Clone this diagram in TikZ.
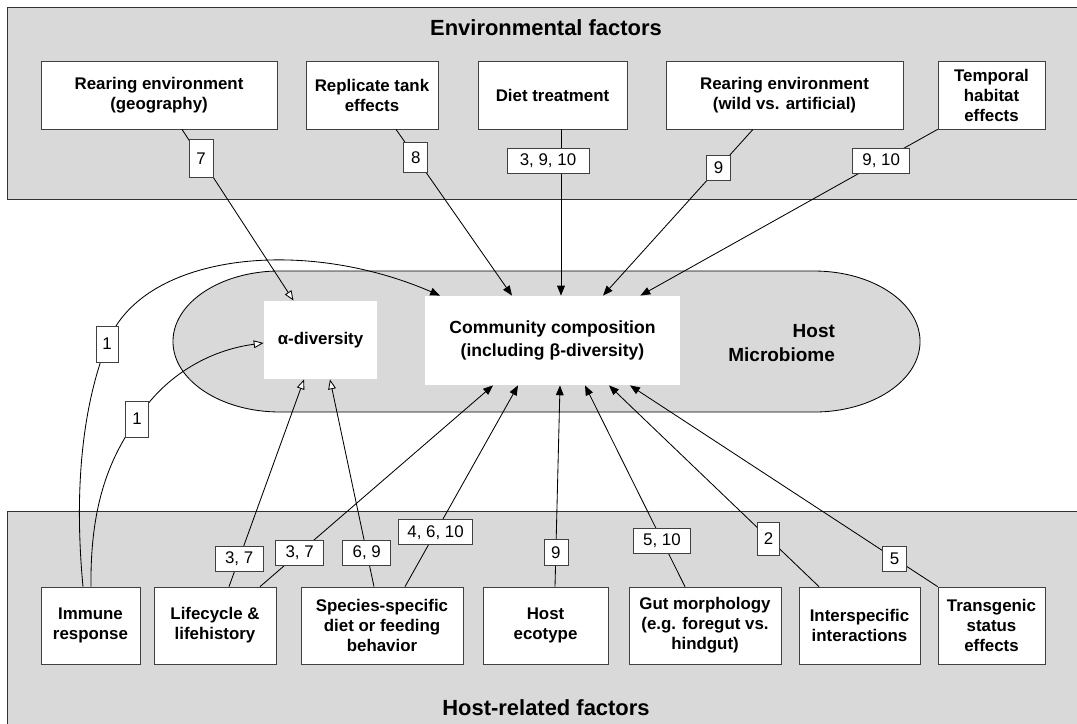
\documentclass[tikz,border=0pt]{standalone}
\usepackage{fontspec}
\setmainfont{Liberation Sans}
\usetikzlibrary{arrows.meta}
\newdimen\px \px=0.025cm

\begin{document}
\begin{tikzpicture}[x=0.025cm, y=-0.025cm, line width=0.6pt, >={Triangle[length=7pt,width=5.5pt]}]
    \tikzset{fbox/.style={draw=black!75, line width=0.5pt, fill=white, align=center, inner sep=0pt, font={\bfseries\fontsize{12}{14.2}\selectfont}},
      num/.style={draw=black!75, line width=0.5pt, fill=white, inner sep=0pt, minimum width=24\px, minimum height=25\px, font={\fontsize{12}{14}\selectfont}},
      panel/.style={fill=black!15, draw=black!80},
      hollow/.style={-{Triangle[length=7pt,width=5.5pt,fill=white]}},
      title/.style={font={\bfseries\fontsize{15.6}{18}\selectfont}}}
    \useasboundingbox (0,0) rectangle (1077,723);
    \draw [panel] (7,7) rectangle (1090,199);
    \draw [panel] (7,511) rectangle (1090,735);
    \node [title] (envt) at (546,28) {Environmental factors};
    \node [title] (hostt) at (546,708) {Host-related factors};
    \draw [fill=black!15] (280,271) -- (814,271) arc [start angle=90, end angle=-90, x radius=2.65cm, y radius=1.7625cm] -- (280,412) arc [start angle=270, end angle=90, x radius=2.675cm, y radius=1.7625cm] -- cycle;
    \node [fill=white, minimum width=113\px, minimum height=78\px, font={\bfseries\fontsize{12}{14}\selectfont}] (alpha) at (320.5,340) {α-diversity};
    \node [fill=white, align=center, minimum width=255\px, minimum height=89\px, font={\bfseries\fontsize{12.5}{16.4}\selectfont}] (comm) at (552.5,340.5) {Community composition\\(including β-diversity)};
    \node [anchor=east, align=right, font={\bfseries\fontsize{13.5}{17}\selectfont}] (host) at (840,343) {Host\\Microbiome};
    \node [fbox, minimum width=236\px, minimum height=68\px] (geo) at (159,95) {Rearing environment\\(geography)};
    \node [fbox, minimum width=132\px, minimum height=68\px] (tank) at (372,95) {Replicate tank\\effects};
    \node [fbox, minimum width=149\px, minimum height=68\px] (diet) at (552.5,95) {Diet treatment};
    \node [fbox, minimum width=237\px, minimum height=68\px] (wild) at (784.5,95) {Rearing environment\\(wild vs. artificial)};
    \node [fbox, minimum width=107\px, minimum height=68\px] (temp) at (991.5,95) {Temporal\\habitat\\effects};
    \node [fbox, minimum width=99\px, minimum height=77\px] (imm) at (90.5,625.5) {Immune\\response};
    \node [fbox, minimum width=122\px, minimum height=77\px] (life) at (215,625.5) {Lifecycle \&\\lifehistory};
    \node [fbox, minimum width=162\px, minimum height=77\px] (spec) at (382,625.5) {Species-specific\\diet or feeding\\behavior};
    \node [fbox, minimum width=125\px, minimum height=77\px] (eco) at (545.5,625.5) {Host\\ecotype};
    \node [fbox, minimum width=152\px, minimum height=77\px] (gut) at (705,625.5) {Gut morphology\\(e.g. foregut vs.\\hindgut)};
    \node [fbox, minimum width=121\px, minimum height=77\px] (inter) at (859.5,625.5) {Interspecific\\interactions};
    \node [fbox, minimum width=107\px, minimum height=77\px] (trans) at (991.5,625.5) {Transgenic\\status\\effects};
    \draw [hollow] ([xshift=23\px]geo.south) -- node[num, pos=0.17, minimum height=38\px] {7} ([xshift=-27\px]alpha.north);
    \draw [->] ([xshift=24\px]tank.south) -- node[num, pos=0.17, minimum height=30\px] {8} ([xshift=-40.5\px]comm.north);
    \draw [->] ([xshift=8.5\px]diet.south) -- node[num, pos=0.19, xshift=-13\px, minimum width=82\px] {3, 9, 10} ([xshift=8.5\px]comm.north);
    \draw [->] ([xshift=-31.5\px]wild.south) -- node[num, pos=0.23] {9} ([xshift=50.5\px]comm.north);
    \draw [->] (temp.south west) -- node[num, pos=0.19, minimum width=57\px] {9, 10} ([xshift=-40\px]comm.north east);
    \draw [hollow] ([xshift=14\px]life.north) -- node[num, pos=0.135, minimum width=48\px] {3, 7} ([xshift=-16.5\px]alpha.south);
    \draw [->] ([xshift=45\px]life.north) -- node[num, pos=0.17, minimum width=48\px] {3, 7} ([xshift=-59.5\px]comm.south);
    \draw [hollow] ([xshift=-8\px]spec.north) -- node[num, pos=0.165, minimum width=48\px] {6, 9} ([xshift=9.5\px]alpha.south);
    \draw [->] ([xshift=23\px]spec.north) -- node[num, pos=0.27, minimum width=74\px] {4, 6, 10} ([xshift=-34.5\px]comm.south);
    \draw [->] ([xshift=9.5\px]eco.north) -- node[num, pos=0.17, minimum height=26\px] {9} ([xshift=7.5\px]comm.south);
    \draw [->] ([xshift=-20\px]gut.north) -- node[num, pos=0.23, minimum width=57\px] {5, 10} ([xshift=32.5\px]comm.south);
    \draw [->] ([xshift=-40.5\px]inter.north) -- node[num, pos=0.24, minimum width=22\px, minimum height=33\px] {2} ([xshift=56.5\px]comm.south);
    \draw [->] (trans.north west) -- node[num, pos=0.14] {5} ([xshift=77.5\px]comm.south);
    \draw [->] ([xshift=-7.5\px]imm.north) .. controls (72,470) and (88,392) .. (107,344) node[num, minimum width=22\px, minimum height=36\px] {1} .. controls (140,255) and (300,235) .. ([xshift=-112.5\px]comm.north);
    \draw [hollow] ([xshift=0.5\px]imm.north) .. controls (90,500) and (112,455) .. (137,419) node[num, minimum width=23\px, minimum height=36\px] {1} .. controls (165,375) and (210,350) .. ([yshift=-3\px]alpha.west);
\end{tikzpicture}
\end{document}
